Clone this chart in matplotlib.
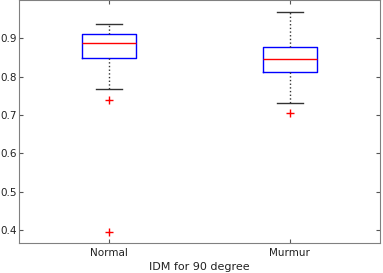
import matplotlib
matplotlib.use("Agg")
import matplotlib.pyplot as plt

groups = ['Normal', 'Murmur']
whislo = [0.768, 0.731]
q1 = [0.849, 0.811]
med = [0.888, 0.845]
q3 = [0.912, 0.878]
whishi = [0.937, 0.969]
fliers = [[0.740, 0.394], [0.705]]

stats = []
for i in range(len(groups)):
    stats.append({'label': groups[i], 'whislo': whislo[i], 'q1': q1[i], 'med': med[i],
                  'q3': q3[i], 'whishi': whishi[i], 'fliers': fliers[i]})

fig = plt.figure(figsize=(3.83, 2.73), dpi=100)
ax = fig.add_axes([19 / 383, 1 - 243 / 273, 361 / 383, 243 / 273])

ax.bxp(stats, positions=[1, 2], widths=0.3, capwidths=0.144,
       boxprops=dict(color='blue', linewidth=1.0),
       medianprops=dict(color='red', linewidth=1.0),
       whiskerprops=dict(color='#333333', linestyle=':', linewidth=1.0),
       capprops=dict(color='#333333', linewidth=1.0),
       flierprops=dict(marker='+', markeredgecolor='red', markersize=6, linestyle='none'))

ax.set_xlim(0.5, 2.5)
ax.set_ylim(0.366, 1.0)
ax.set_yticks([0.4, 0.5, 0.6, 0.7, 0.8, 0.9])
ax.set_xticks([1, 2])
ax.set_xticklabels(groups)
ax.tick_params(direction='in', top=True, right=True, labelsize=7.5,
               colors='#555555', labelcolor='#222222', length=3)
ax.tick_params(axis='y', pad=1.5)
for s in ax.spines.values():
    s.set_color('#808080')
ax.set_xlabel('IDM for 90 degree', fontsize=8, color='#222222', labelpad=3)

fig.savefig('out.png', dpi=100)
